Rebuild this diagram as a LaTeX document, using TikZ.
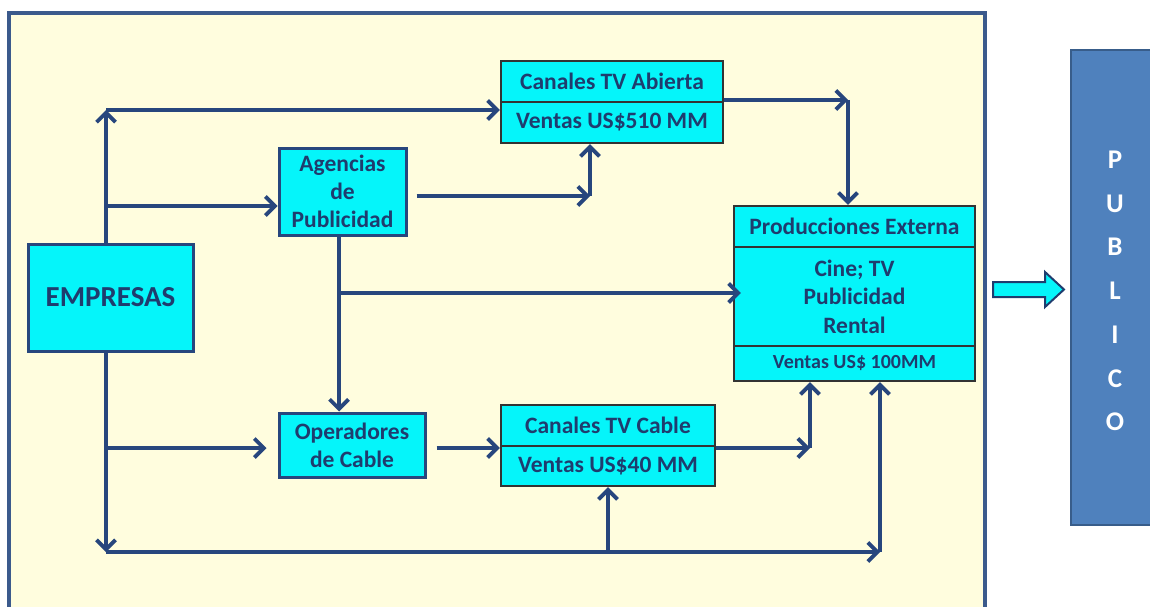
\documentclass[tikz,border=0pt]{standalone}
\usepackage{fontspec}
\setmainfont{Carlito}
\usetikzlibrary{arrows.meta}
\definecolor{bgpale}{HTML}{FFFDDE}
\definecolor{frameblue}{HTML}{3B5A8C}
\definecolor{linkblue}{HTML}{27467D}
\definecolor{txtblue}{HTML}{1F3C6E}
\definecolor{boxcyan}{HTML}{05F5FA}
\definecolor{pubfill}{HTML}{4F81BD}
\definecolor{pubedge}{HTML}{385D8A}
\tikzset{
  bluebox/.style={draw=linkblue, line width=3pt, fill=boxcyan, text=txtblue,
    inner sep=0pt, align=center, font=\bfseries\fontsize{23.5}{28}\selectfont},
  cell/.style={draw=black!80, line width=2.4pt, fill=boxcyan, text=txtblue,
    inner sep=0pt, align=center, font=\bfseries\fontsize{23.5}{28.5}\selectfont},
  conn/.style={draw=linkblue, line width=3.8pt,
    -{Straight Barb[length=9.5pt,width=19pt,line width=3.8pt]}},
}
\begin{document}
\begin{tikzpicture}[x=1pt,y=-1pt]
\clip (0,0) rectangle (1150,607);
\fill[white] (0,0) rectangle (1150,607);
% pale panel holding the flow chart
\draw[fill=bgpale, draw=frameblue, line width=3.4pt] (9,13) rectangle (985,640);

% boxes
\node[bluebox, minimum width=165pt, minimum height=107pt,
      font=\bfseries\fontsize{29}{32}\selectfont] (emp) at (110.5,297.5) {EMPRESAS};
\node[bluebox, minimum width=127pt, minimum height=87pt] (ag) at (342.5,191.5)
      {Agencias\\de\\Publicidad};
\node[bluebox, minimum width=146pt, minimum height=64pt] (op) at (352,445)
      {Operadores\\de Cable};

\node[cell, minimum width=222pt, minimum height=41pt] (abT) at (612,81.5) {Canales TV Abierta};
\node[cell, minimum width=222pt, minimum height=41pt] (abB) at (612,122.5) {Ventas US\$510 MM};

\node[cell, minimum width=214pt, minimum height=41pt] (cbT) at (608,425.5) {Canales TV Cable};
\node[cell, minimum width=214pt, minimum height=40pt] (cbB) at (608,466) {Ventas US\$40 MM};

\node[cell, minimum width=241pt, minimum height=41pt] (prT) at (854.5,226.5) {Producciones Externa};
\node[cell, minimum width=241pt, minimum height=99pt] (prM) at (854.5,296.5)
      {Cine; TV\\Publicidad\\Rental};
\node[cell, minimum width=241pt, minimum height=35pt,
      font=\bfseries\fontsize{20}{24}\selectfont] (prB) at (854.5,363.5) {Ventas US\$ 100MM};

% junction points of the connectors
\coordinate (jTop) at (106,110);
\coordinate (jAg) at (106,206);
\coordinate (jOp) at (106,448);
\coordinate (jBot) at (106,552);
\coordinate (jAb) at (590,196);
\coordinate (jPr) at (848,100);
\coordinate (jMid) at (339,293);
\coordinate (jCb) at (810,448);
\coordinate (jCbIn) at (608,552);
\coordinate (jPrB) at (880,552);

% connectors
\draw[conn] (emp.north -| jTop) -- (jTop);
\draw[conn] (jTop) -- (abB.west |- jTop);
\draw[conn] (jAg) -- (ag.west |- jAg);
\draw[conn] ([xshift=9pt]ag.east |- jAb) -- (jAb);
\draw[conn] (jAb) -- (abB.south -| jAb);
\draw[conn] (abT.east |- jPr) -- (jPr);
\draw[conn] (jPr) -- (prT.north -| jPr);
\draw[conn] (ag.south -| jMid) -- (op.north -| jMid);
\draw[conn, shorten >=-8pt] (jMid) -- (prM.west |- jMid);
\draw[conn] (emp.south -| jBot) -- (jBot);
\draw[conn, shorten >=11pt] (jOp) -- (op.west |- jOp);
\draw[conn] ([xshift=10pt]op.east |- jCb) -- (cbB.west |- jCb);
\draw[conn] (cbB.east |- jCb) -- (jCb);
\draw[conn] (jCb) -- (prB.south -| jCb);
\draw[conn] (jBot) -- (jPrB);
\draw[conn] (jPrB) -- (prB.south -| jPrB);
\draw[conn] (jCbIn) -- (cbB.south -| jCbIn);

% block arrow towards the audience
\draw[fill=boxcyan, draw=txtblue, line width=2pt, line join=miter]
  (993,282) -- (1045,282) -- (1045,272) -- (1064,289.5) -- (1045,307)
  -- (1045,297) -- (993,297) -- cycle;

% audience column
\draw[fill=pubfill, draw=pubedge, line width=2.6pt] (1071,50) rectangle (1165,525);
\node[text=white, font=\bfseries\fontsize{27}{43.7}\selectfont, align=center,
      inner sep=0pt] (pub) at (1115,291) {P\\U\\B\\L\\I\\C\\O};
\end{tikzpicture}
\end{document}
